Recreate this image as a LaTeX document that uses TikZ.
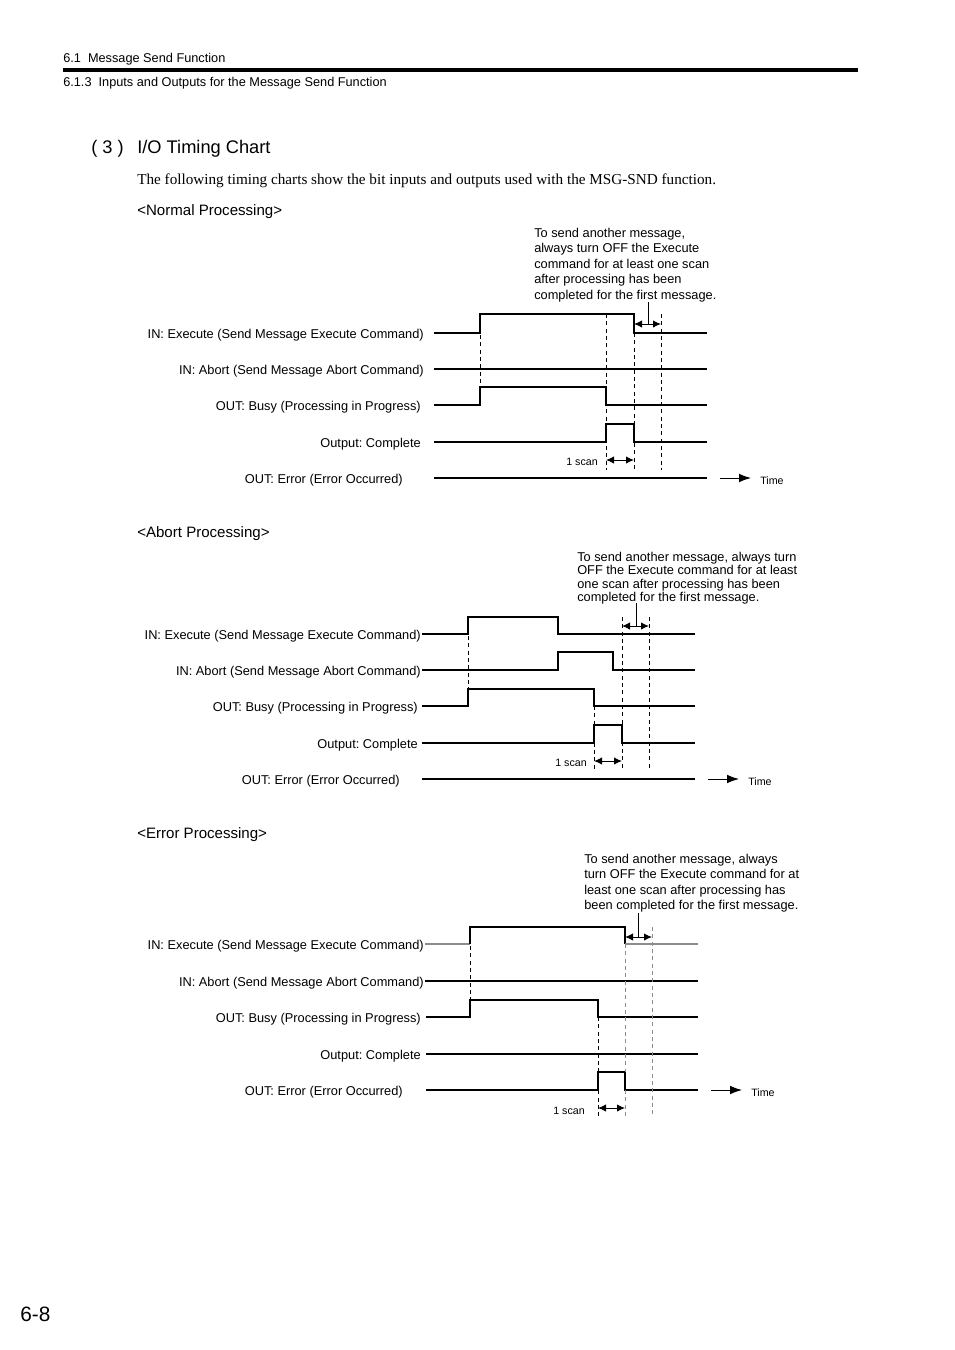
\documentclass[tikz,border=0pt]{standalone}
\usepackage{fontspec}
\setmainfont{Liberation Sans}
\newfontfamily\bodyserif{Liberation Serif}
\usetikzlibrary{arrows.meta}
\frenchspacing

\begin{document}
\begin{tikzpicture}[
    x=0.75pt, y=-0.75pt,
    txt/.style={inner sep=0, yshift=-1.4pt},
    wave/.style={line width=0.8pt, line join=miter},
    greywave/.style={wave, draw=black!45},
    guide/.style={line width=0.7pt, dash pattern=on 3pt off 2.5pt},
    greyguide/.style={guide, draw=black!45},
    signame/.style={txt, anchor=east, font=\fontsize{9.6}{11}\selectfont},
    note/.style={txt, anchor=north west, align=left},
    small/.style={txt, font=\fontsize{8}{9}\selectfont},
    heading/.style={txt, anchor=west, font=\fontsize{11.3}{13}\selectfont},
    span/.style={{Latex[length=6pt,width=5.5pt]}-{Latex[length=6pt,width=5.5pt]}, line width=0.7pt},
    timearrow/.style={-{Latex[length=9pt,width=6.5pt]}, line width=0.7pt}
  ]
  \useasboundingbox (0,0) rectangle (954,1350);

  % page header
  \node[txt, anchor=west, font=\fontsize{9.55}{11}\selectfont] (hd-sec) at (63,57) {6.1\ \ Message Send Function};
  \fill (63,68) rectangle (858,72);
  \node[txt, anchor=west, font=\fontsize{9.55}{11}\selectfont] (hd-sub) at (63,81) {6.1.3\ \ Inputs and Outputs for the Message Send Function};

  % title and intro
  \node[txt, anchor=west, font=\fontsize{13.7}{16}\selectfont] (ttl-num) at (91,147) {( 3 )};
  \node[txt, anchor=west, font=\fontsize{13.7}{16}\selectfont] (ttl) at (137,147) {I/O Timing Chart};
  \node[txt, anchor=west, font=\bodyserif\fontsize{11.4}{13}\selectfont] (intro) at (137,179)
    {The following timing charts show the bit inputs and outputs used with the MSG-SND function.};

  % ---------- normal processing ----------
  \node[heading] (nrm) at (137,210) {<Normal Processing>};
  \node[signame] (nrm-exe) at (424,333) {IN: Execute (Send Message Execute Command)};
  \node[signame] (nrm-abt) at (424,369) {IN: Abort (Send Message Abort Command)};
  \node[signame] (nrm-bsy) at (421,405) {OUT: Busy (Processing in Progress)};
  \node[signame] (nrm-cpl) at (421,442) {Output: Complete};
  \node[signame] (nrm-err) at (403,478) {OUT: Error (Error Occurred)};

  \draw[wave] (434,333) -- (480,333) -- (480,314) -- (634,314) -- (634,333) -- (707,333);
  \draw[wave] (434,369) -- (707,369);
  \draw[wave] (434,405) -- (480,405) -- (480,387) -- (606,387) -- (606,405) -- (707,405);
  \draw[wave] (434,442) -- (606,442) -- (606,424) -- (634,424) -- (634,442) -- (707,442);
  \draw[wave] (434,478) -- (707,478);

  \draw[guide] (480,335) -- (480,387);
  \draw[guide] (606,314) -- (606,470);
  \draw[guide] (634,333) -- (634,470);
  \draw[guide] (661,314) -- (661,470);

  \node[note, font=\fontsize{9.6}{11.6}\selectfont] (nrm-note) at (534,226)
    {To send another message,\\always turn OFF the Execute\\command for at least one scan\\after processing has been\\completed for the first message.};
  \coordinate (nrm-off-a) at (634,324);
  \coordinate (nrm-off-b) at (661,324);
  \draw[line width=0.7pt] (648,302) -- (648,324);
  \draw[span] (nrm-off-a) -- (nrm-off-b);
  \coordinate (nrm-scan-a) at (606,460);
  \coordinate (nrm-scan-b) at (634,460);
  \draw[span] (nrm-scan-a) -- (nrm-scan-b);
  \node[small, anchor=east] (nrm-scan) at (598,460) {1 scan};
  \coordinate (nrm-t0) at (720,478);
  \node[small, anchor=west] (nrm-time) at (760,479) {Time};
  \draw[timearrow] (nrm-t0) -- (751,478);

  % ---------- abort processing ----------
  \node[heading] (abt) at (137,532) {<Abort Processing>};
  \node[signame] (abt-exe) at (421,634) {IN: Execute (Send Message Execute Command)};
  \node[signame] (abt-abt) at (421,670) {IN: Abort (Send Message Abort Command)};
  \node[signame] (abt-bsy) at (418,706) {OUT: Busy (Processing in Progress)};
  \node[signame] (abt-cpl) at (418,743) {Output: Complete};
  \node[signame] (abt-err) at (400,779) {OUT: Error (Error Occurred)};

  \draw[wave] (422,634) -- (468,634) -- (468,617) -- (558,617) -- (558,634) -- (695,634);
  \draw[wave] (422,670) -- (558,670) -- (558,652) -- (613,652) -- (613,670) -- (695,670);
  \draw[wave] (422,706) -- (468,706) -- (468,689) -- (594,689) -- (594,706) -- (695,706);
  \draw[wave] (422,743) -- (594,743) -- (594,725) -- (622,725) -- (622,743) -- (695,743);
  \draw[wave] (422,779) -- (695,779);

  \draw[guide] (468,636) -- (468,689);
  \draw[guide] (594,706) -- (594,770);
  \draw[guide] (622,617) -- (622,770);
  \draw[guide] (649,617) -- (649,770);

  \node[note, font=\fontsize{9.6}{10.1}\selectfont] (abt-note) at (577,550)
    {To send another message, always turn\\OFF the Execute command for at least\\one scan after processing has been\\completed for the first message.};
  \coordinate (abt-off-a) at (622,626);
  \coordinate (abt-off-b) at (649,626);
  \draw[line width=0.7pt] (636,603) -- (636,626);
  \draw[span] (abt-off-a) -- (abt-off-b);
  \coordinate (abt-scan-a) at (594,761);
  \coordinate (abt-scan-b) at (622,761);
  \draw[span] (abt-scan-a) -- (abt-scan-b);
  \node[small, anchor=east] (abt-scan) at (587,761) {1 scan};
  \coordinate (abt-t0) at (708,779);
  \node[small, anchor=west] (abt-time) at (748,780) {Time};
  \draw[timearrow] (abt-t0) -- (739,779);

  % ---------- error processing ----------
  \node[heading] (err) at (137,833) {<Error Processing>};
  \node[signame] (err-exe) at (424,944) {IN: Execute (Send Message Execute Command)};
  \node[signame] (err-abt) at (424,981) {IN: Abort (Send Message Abort Command)};
  \node[signame] (err-bsy) at (421,1017) {OUT: Busy (Processing in Progress)};
  \node[signame] (err-cpl) at (421,1054) {Output: Complete};
  \node[signame] (err-err) at (403,1090) {OUT: Error (Error Occurred)};

  \draw[greywave] (425,944) -- (470,944);
  \draw[wave] (470,944) -- (470,927) -- (625,927) -- (625,944);
  \draw[greywave] (625,944) -- (698,944);
  \draw[wave] (425,981) -- (698,981);
  \draw[wave] (426,1017) -- (470,1017) -- (470,1000) -- (598,1000) -- (598,1017) -- (698,1017);
  \draw[wave] (426,1054) -- (698,1054);
  \draw[wave] (426,1090) -- (598,1090) -- (598,1072) -- (625,1072) -- (625,1090) -- (698,1090);

  \draw[guide] (470,946) -- (470,1000);
  \draw[guide] (598,1017) -- (598,1117);
  \draw[greyguide] (625,944) -- (625,1072);
  \draw[greyguide] (625,1090) -- (625,1117);
  \draw[greyguide] (652,927) -- (652,1117);

  \node[note, font=\fontsize{9.6}{11.5}\selectfont] (err-note) at (584,852)
    {To send another message, always\\turn OFF the Execute command for at\\least one scan after processing has\\been completed for the first message.};
  \coordinate (err-off-a) at (625,937);
  \coordinate (err-off-b) at (652,937);
  \draw[line width=0.7pt] (638,913) -- (638,937);
  \draw[span] (err-off-a) -- (err-off-b);
  \coordinate (err-scan-a) at (598,1108);
  \coordinate (err-scan-b) at (625,1108);
  \draw[span] (err-scan-a) -- (err-scan-b);
  \node[small, anchor=east] (err-scan) at (585,1109) {1 scan};
  \coordinate (err-t0) at (711,1090);
  \node[small, anchor=west] (err-time) at (751,1091) {Time};
  \draw[timearrow] (err-t0) -- (742,1090);

  % page number
  \node[txt, anchor=west, font=\fontsize{15.6}{18}\selectfont] (pgno) at (20,1312) {6-8};
\end{tikzpicture}
\end{document}
